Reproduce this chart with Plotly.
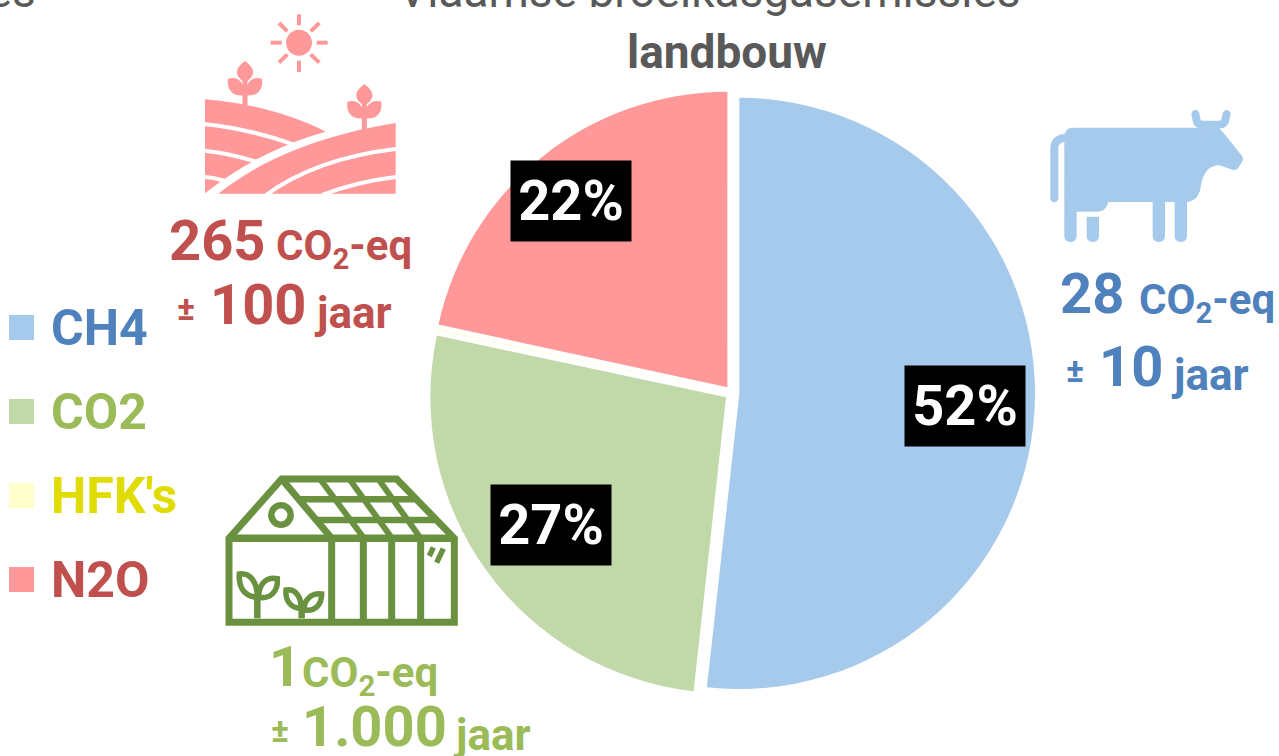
import re
import plotly.graph_objects as go

W, H = 1279, 756
categories = ["CH4", "CO2", "HFK's", "N2O"]
values = [51.75, 26.6, 0.05, 21.6]
slice_colors = ["#A6CAEC", "#C1D8A9", "#FFFFCC", "#FF9999"]
text_colors = ["#4F81BD", "#9BBB59", "#E0DC00", "#C0504D"]
title_lines = ["Vlaamse broeikasgasemissies", "landbouw"]
gwp = ["28", "1", "265"]
horizon = ["10", "1.000", "100"]
FONT = "Roboto"
GREY = "#595959"
ICON_GREEN = "#6A9140"


def px(x):
    return x / W


def py(y):
    return 1 - y / H


def conv(path, ox, oy, s=1 / 3):
    toks = re.findall(r"[A-Za-z]|-?\d+\.?\d*", path)
    out, i = [], 0
    for t in toks:
        if t.isalpha():
            out.append(t)
            i = 0
        else:
            v = float(t)
            out.append(f"{px(ox + v * s):.5f}" if i % 2 == 0 else f"{py(oy + v * s):.5f}")
            i += 1
    res, k = "", 0
    for t in out:
        if t.isalpha():
            res += t
            k = 0
        else:
            res += ("," if k % 2 == 1 else (" " if k else "")) + t
            k += 1
    return res


shapes = []


def sh(path, ox, oy, fill=None, line=None, w=0):
    shapes.append(dict(type="path", xref="paper", yref="paper", path=conv(path, ox, oy),
                       fillcolor=fill if fill else "rgba(0,0,0,0)",
                       line=dict(color=line if line else "rgba(0,0,0,0)", width=w)))


def circ(cx, cy, r):
    k = 0.5523 * r
    return (f"M{cx-r} {cy} C{cx-r} {cy-k} {cx-k} {cy-r} {cx} {cy-r} C{cx+k} {cy-r} {cx+r} {cy-k} {cx+r} {cy} "
            f"C{cx+r} {cy+k} {cx+k} {cy+r} {cx} {cy+r} C{cx-k} {cy+r} {cx-r} {cy+k} {cx-r} {cy} Z")


# ---- cow icon ----
C = "#A6CAEC"
ox, oy = 1040, 100
sh("M73 110 C73 92 85 83 100 83 L535 83 L548 95 L606 168 C612 178 608 184 600 195 C594 206 590 212 578 209 "
   "L535 195 C505 198 488 220 482 262 C478 290 462 305 441 306 L441 408 C441 432 404 432 404 408 L404 306 L375 306 "
   "L375 408 C375 432 338 432 338 408 L338 306 L205 306 C200 325 190 335 170 335 L110 335 L110 408 C110 432 73 432 73 408 Z",
   ox, oy, fill=C)
sh("M140 350 L177 350 L177 408 C177 432 140 432 140 408 Z", ox, oy, fill=C)
sh("M80 113 C55 113 43 125 43 145 L43 295", ox, oy, line=C, w=8)
sh(circ(43, 295, 12), ox, oy, fill=C)
sh("M466 42 L470 62 C472 72 480 74 490 74 L535 74 C548 74 554 70 556 60 L560 42", ox, oy, line=C, w=8)
sh(circ(466, 42, 12), ox, oy, fill=C)
sh(circ(560, 42, 12), ox, oy, fill=C)

# ---- field icon ----
P = "#FF9999"
ox, oy = 160, 0
sh(circ(417, 128, 39), ox, oy, fill=P)
for a, b in [("417 43", "417 76"), ("417 182", "417 216"), ("332 128", "365 128"), ("470 128", "503 128"),
             ("357 69", "382 94"), ("452 94", "478 69"), ("357 188", "382 163"), ("452 163", "478 188")]:
    sh(f"M{a} L{b}", ox, oy, line=P, w=4)


def plant(dx, dy, bottom):
    sh(f"M{255+dx} {240+dy} L{255+dx} {bottom}", ox, oy, line=P, w=5)
    sh(f"M{255+dx} {183+dy} C{292+dx} {210+dy} {282+dx} {232+dy} {255+dx} {248+dy} C{228+dx} {232+dy} {218+dx} {210+dy} {255+dx} {183+dy} Z", ox, oy, fill=P)
    sh(f"M{204+dx} {236+dy} C{238+dx} {228+dy} {254+dx} {250+dy} {253+dx} {286+dy} C{218+dx} {290+dy} {200+dx} {270+dy} {204+dx} {236+dy} Z", ox, oy, fill=P)
    sh(f"M{306+dx} {236+dy} C{272+dx} {228+dy} {256+dx} {250+dy} {257+dx} {286+dy} C{292+dx} {290+dy} {310+dx} {270+dy} {306+dx} {236+dy} Z", ox, oy, fill=P)


plant(0, 0, 325)
plant(358, 69, 392)
sh("M135 298 C260 308 390 340 497 395 C370 430 240 495 135 580 Z", ox, oy, fill=P)
sh("M175 581 C300 480 480 405 707 369 L707 581 Z", ox, oy, fill=P)
sh("M130 372 C230 382 320 405 400 433", ox, oy, line="white", w=4)
sh("M130 452 C190 456 240 470 290 485", ox, oy, line="white", w=4)
sh("M130 530 C150 531 175 536 195 543", ox, oy, line="white", w=4)
sh("M318 585 C420 510 550 465 712 446", ox, oy, line="white", w=4)
sh("M485 585 C550 560 630 540 712 530", ox, oy, line="white", w=4)

# ---- greenhouse icon ----
ox, oy = 210, 460
L = ICON_GREEN
sh("M57 235 L215 57 L560 57 L733 235 L733 487 L57 487 Z", ox, oy, line=L, w=7)
sh("M57 235 L733 235", ox, oy, line=L, w=7.5)
sh("M215 57 L365 235", ox, oy, line=L, w=7)
sh("M268 118 L618 118", ox, oy, line=L, w=6.5)
sh("M322 180 L675 180", ox, oy, line=L, w=6.5)
for a, b in [("330 57", "462 235"), ("418 57", "546 235"), ("505 57", "632 235")]:
    sh(f"M{a} L{b}", ox, oy, line=L, w=6)
for x in [365, 460, 545, 632]:
    sh(f"M{x} 235 L{x} 487", ox, oy, line=L, w=7)
sh(circ(213, 165, 29), ox, oy, line=L, w=6.5)
sh("M658 288 L670 262", ox, oy, line=L, w=5.5)
sh("M680 308 L700 266", ox, oy, line=L, w=5.5)
sh("M142 475 L142 400", ox, oy, line=L, w=6.5)
sh("M88 342 C120 338 142 365 142 412 C105 410 85 385 88 342 Z", ox, oy, line=L, w=5.5)
sh("M202 356 C165 350 146 375 146 412 C180 418 205 395 202 356 Z", ox, oy, line=L, w=5.5)
sh("M275 475 L275 445", ox, oy, line=L, w=6.5)
sh("M228 390 C255 385 275 410 273 445 C245 445 225 425 228 390 Z", ox, oy, line=L, w=5.5)
sh("M335 402 C305 398 280 420 283 450 C315 455 335 435 335 402 Z", ox, oy, line=L, w=5.5)

# ---- legend swatches ----
for i, col in enumerate(slice_colors):
    y0 = 315 + 84 * i
    shapes.append(dict(type="rect", xref="paper", yref="paper", x0=px(9), x1=px(34), y0=py(y0), y1=py(y0 + 25),
                       fillcolor=col, line=dict(width=0)))

ann = []


def txt(s, x, y, size, color, anchor="left", bold=True):
    ann.append(dict(text=f"<b>{s}</b>" if bold else s, x=px(x), y=py(y), xref="paper", yref="paper",
                    xanchor=anchor, yanchor="middle", showarrow=False, borderpad=0,
                    font=dict(family=FONT, size=size, color=color)))


# titles
txt(title_lines[0], 709, -9, 46, GREY, "center", bold=False)
txt(title_lines[1], 727, 52, 46, GREY, "center")
txt("emissies", 37, -9, 46, GREY, "right", bold=False)

# legend labels
for i, (cat, col) in enumerate(zip(categories, text_colors)):
    txt(cat, 50, 328 + 84 * i, 50, col)

# GWP blocks: colour, number, "CO2-eq", plus-minus, horizon, jaar
CO2 = "CO<sub>2</sub>-eq"
blocks = [
    (text_colors[3], gwp[2], 168, 241, 275, 249, 176, horizon[2], 209, 305, 313, 313),
    (text_colors[0], gwp[0], 1059, 294, 1138, 302, 1065, horizon[0], 1098, 367, 1170, 375),
    (text_colors[1], gwp[1], 268, 667, 301, 675, 270, horizon[1], 301, 727, 452, 735),
]
for col, num, nx, ny, cx, cy, pmx, hor, hx, hy, jx, jy in blocks:
    txt(num, nx, ny, 56, col)
    txt(CO2, cx, cy, 42, col)
    txt("±", pmx, hy + 3, 34, col)
    txt(hor, hx, hy, 56, col)
    txt("jaar", jx, jy, 44, col)

# percentage boxes, read from the series values
box_centres = {0: (965, 406), 1: (551, 525), 3: (571, 201)}
for i, (cx, cy) in box_centres.items():
    ann.append(dict(text=f"<b>{round(values[i])}%</b>", x=px(cx), y=py(cy), xref="paper", yref="paper",
                    xanchor="center", yanchor="middle", showarrow=False, width=120, height=80, align="center",
                    valign="middle", bgcolor="black", borderpad=0,
                    font=dict(family=FONT, size=56, color="white")))

cx0, cy0, R = 732, 393, 303
fig = go.Figure(go.Pie(labels=categories, values=values, sort=False, direction="clockwise", rotation=0,
                       marker=dict(colors=slice_colors, line=dict(width=0)), pull=0.025,
                       textinfo="none", hoverinfo="label+percent",
                       domain=dict(x=[px(cx0 - R), px(cx0 + R)], y=[py(cy0 + R), py(cy0 - R)])))
fig.update_layout(width=W, height=H, margin=dict(l=0, r=0, t=0, b=0), showlegend=False,
                  paper_bgcolor="white", shapes=shapes, annotations=ann, font=dict(family=FONT))
fig.write_html("out.html", config=dict(displayModeBar=False),
               post_script="document.body.style.margin='0';document.documentElement.style.overflow='hidden';")
